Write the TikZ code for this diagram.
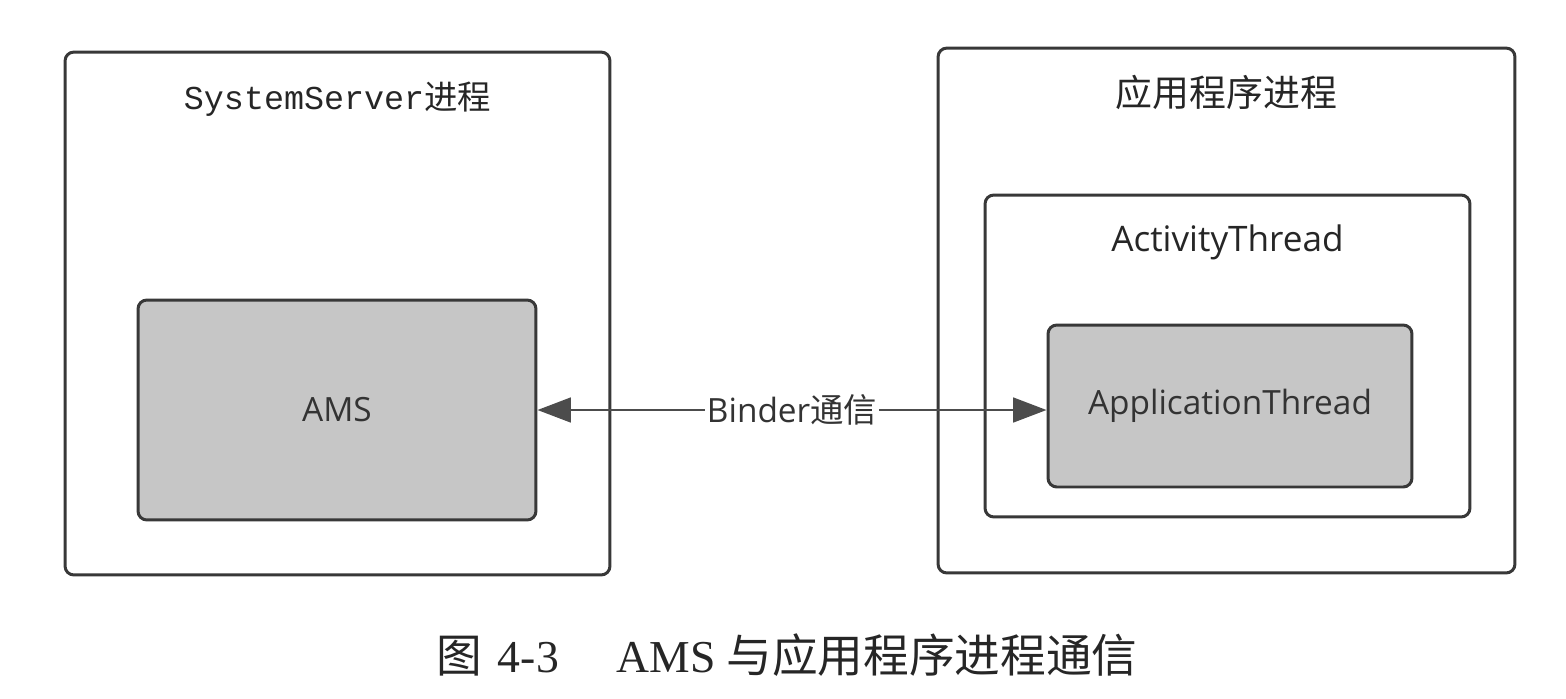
\documentclass[tikz,border=0pt]{standalone}
\usepackage{fontspec}
\setmainfont{Liberation Serif}
\newfontfamily\cjk{Noto Sans CJK SC}
\newfontfamily\uifont{Open Sans}
\newfontfamily\codefont{Liberation Mono}
\usepackage{xcolor}
\usepackage{tikz}
\usetikzlibrary{arrows.meta,positioning,calc}
\definecolor{edge}{HTML}{383838}
\definecolor{shade}{HTML}{C6C6C6}
\definecolor{wire}{HTML}{4C4C4C}

\begin{document}
\begin{tikzpicture}[
  x=0.02cm,y=-0.02cm,
  proc/.style={draw=edge,line width=1.7pt,rounded corners=5pt,fill=white},
  core/.style={draw=edge,line width=1.7pt,rounded corners=5pt,fill=shade,font=\uifont\fontsize{19}{23}\selectfont,text=black!80},
  title/.style={font=\fontsize{19}{23}\selectfont,text=black!85},
  arr/.style={{Triangle[length=19pt,width=14pt]}-{Triangle[length=19pt,width=14pt]},line width=1.6pt,draw=wire,fill=wire},
  caption/.style={font=\fontsize{26}{30}\selectfont,text=black!85},
]
  \useasboundingbox (0,0) rectangle (1566,698);

  % SystemServer process
  \node[proc,minimum width=10.9cm,minimum height=10.46cm] (ss) at (337.5,313.5) {};
  \node[title,below=0.5cm of ss.north] (sst) {\codefont SystemServer\cjk 进程};
  \node[core,minimum width=7.96cm,minimum height=4.4cm] (ams) at (337,410) {AMS};

  % application process
  \node[proc,minimum width=11.54cm,minimum height=10.5cm] (app) at (1226.5,310.5) {};
  \node[title,font=\cjk\fontsize{21}{25}\selectfont,below=0.45cm of app.north] (appt) {应用程序进程};
  \node[proc,minimum width=9.7cm,minimum height=6.44cm] (at) at (1227.5,356) {};
  \node[title,font=\uifont\fontsize{20}{24}\selectfont,below=0.5cm of at.north] (att) {ActivityThread};
  \node[core,minimum width=7.28cm,minimum height=3.24cm] (apt) at (1230,406) {ApplicationThread};

  % Binder
  \draw[arr] (ams.east) -- node[fill=white,inner sep=1pt,font=\uifont\fontsize{19}{23}\selectfont,text=black!80] (bl) {Binder\cjk 通信} (ams.east -| apt.west);

  \node[caption] (cap) at (787,655) {{\cjk 图}\hspace{9pt}4-3\hspace{33pt}AMS\hspace{6pt}{\cjk 与应用程序进程通信}};
\end{tikzpicture}
\end{document}
